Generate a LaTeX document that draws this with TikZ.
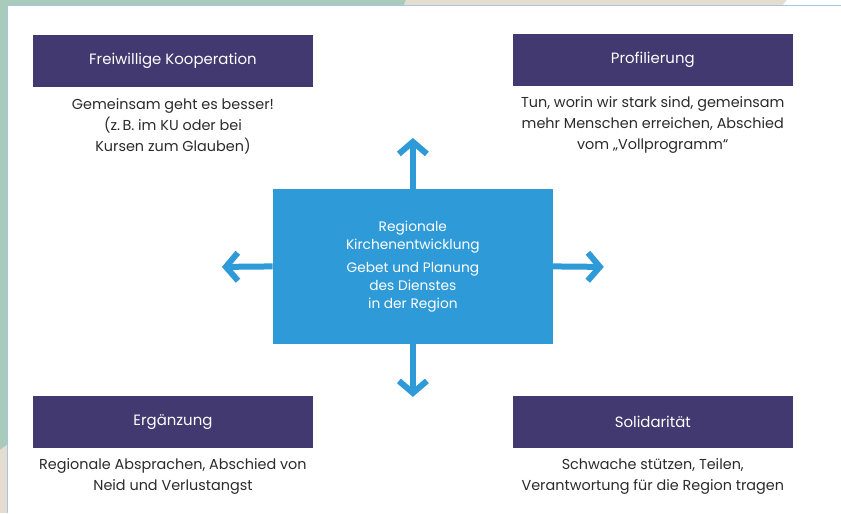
\documentclass[tikz,border=0pt]{standalone}
\usepackage{fontspec}
\setmainfont{Poppins}
\usetikzlibrary{arrows.meta}

\definecolor{kopfblau}{HTML}{41396F}
\definecolor{mittelblau}{HTML}{2E9AD7}
\definecolor{mint}{HTML}{A8CBBB}
\definecolor{sand}{HTML}{E5DDCF}
\definecolor{randblau}{HTML}{A9C4E0}
\definecolor{schrift}{HTML}{2B2B2B}

\begin{document}
\begin{tikzpicture}[x=0.75pt,y=-0.75pt,
    titel/.style={fill=kopfblau,text=white,minimum width=210pt,minimum height=39pt,
        inner sep=0pt,font=\fontsize{11.2}{13}\selectfont},
    inhalt/.style={text=schrift,align=center,inner sep=0pt,
        font=\fontsize{10.8}{15.75}\selectfont},
    zentrum/.style={fill=mittelblau,text=white,align=center,minimum width=210pt,
        minimum height=116.25pt,inner sep=0pt,font=\fontsize{10.3}{13.5}\selectfont},
    pfeil/.style={draw=mittelblau,line width=4.5pt,
        -{Straight Barb[length=9pt,width=21pt]}}]
    % Hintergrund
    \fill[white] (0,0) rectangle (841,513);
    \fill[mint] (0,0) rectangle (7,513);
    \fill[sand] (0,450) -- (7,445) -- (7,513) -- (0,513) -- cycle;
    \fill[mint] (0,0) rectangle (406,5);
    \fill[sand] (406,0) -- (787,0) -- (783,5) -- (404,5) -- cycle;
    \draw[randblau] (7,5) -- (841,5);
    \draw[randblau] (7.5,5) -- (7.5,513);

    % Mitte
    \node[zentrum] (mitte) at (413,266.5) {Regionale\\Kirchenentwicklung\\[4pt]
        Gebet und Planung\\des Dienstes\\in der Region};

    % vier Felder
    \node[titel] (koop) at (173,61) {Freiwillige Kooperation};
    \node[inhalt] (kooptext) at (173,126) {Gemeinsam geht es besser!\\(z.\,B. im KU oder bei\\Kursen zum Glauben)};
    \node[titel] (profil) at (653,60) {Profilierung};
    \node[inhalt] (profiltext) at (653,125) {Tun, worin wir stark sind, gemeinsam\\mehr Menschen erreichen, Abschied\\vom „Vollprogramm“};
    \node[titel] (ergaenz) at (173,422) {Ergänzung};
    \node[inhalt] (ergaenztext) at (173,477) {Regionale Absprachen, Abschied von\\Neid und Verlustangst};
    \node[titel] (solid) at (653,422) {Solidarität};
    \node[inhalt] (solidtext) at (653,477) {Schwache stützen, Teilen,\\Verantwortung für die Region tragen};

    % Pfeile
    \coordinate (oben) at (413,138);
    \coordinate (links) at (222,267);
    \coordinate (rechts) at (604,267);
    \coordinate (unten) at (413,397);
    \draw[pfeil] (mitte.north) -- (oben);
    \draw[pfeil] (mitte.west) -- (links);
    \draw[pfeil] (mitte.east) -- (rechts);
    \draw[pfeil] (mitte.south) -- (unten);
\end{tikzpicture}
\end{document}
